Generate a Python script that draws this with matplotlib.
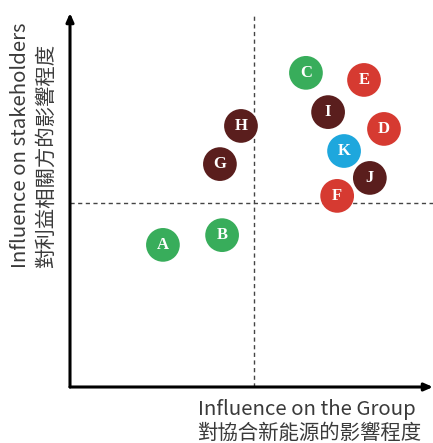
import matplotlib
matplotlib.use("Agg")
import matplotlib.pyplot as plt

# stakeholder positions (0-100 on both axes)
labels = ["A", "B", "C", "D", "E", "F", "G", "H", "I", "J", "K"]
x_vals = [25.6, 41.9, 65.0, 86.5, 81.0, 73.6, 41.3, 47.1, 71.1, 82.6, 75.5]
y_vals = [38.0, 40.6, 84.0, 69.0, 82.1, 51.1, 59.6, 69.8, 73.5, 55.9, 63.1]
groups = ["green", "green", "green", "red", "red", "red", "brown", "brown", "brown", "brown", "blue"]
x_mid = 50.7
y_mid = 49.2

colors = {"green": "#38ad5b", "red": "#d63a31", "brown": "#5a1e1d", "blue": "#1ea7dd"}

fig = plt.figure(figsize=(4.33, 4.43), dpi=100)
ax = fig.add_axes([70 / 433, 56 / 443, 363 / 433, 374 / 443])
ax.set_xlim(0, 100)
ax.set_ylim(0, 100)
ax.axis("off")

# quadrant lines
ax.axvline(x_mid, color="#444444", lw=1, ls=(0, (3, 2.5)), zorder=1)
ax.axhline(y_mid, color="#444444", lw=1, ls=(0, (3, 2.5)), zorder=1)

# axes arrows
arrow = dict(arrowstyle="-|>,head_length=0.5,head_width=0.22", color="black", lw=2.2,
             shrinkA=0, shrinkB=0)
ax.annotate("", xy=(100, 0), xytext=(0, 0), annotation_clip=False, arrowprops=arrow)
ax.annotate("", xy=(0, 100), xytext=(0, 0), annotation_clip=False, arrowprops=arrow)

ax.scatter(x_vals, y_vals, s=590, c=[colors[g] for g in groups], edgecolors="none", zorder=3, clip_on=False)
for lab, x, y in zip(labels, x_vals, y_vals):
    ax.text(x, y, lab, color="white", fontsize=12, fontweight="bold", family="Liberation Serif",
            ha="center", va="center", zorder=4)

fam = ["Noto Sans CJK TC", "DejaVu Sans"]
txt_color = "#3a3a3a"
fs = 14.7
fig.text(198 / 433, 1 - 415 / 443, "Influence on the Group", fontsize=fs, family=fam,
         color=txt_color, ha="left", va="baseline")
fig.text(197 / 433, 1 - 439 / 443, "對協合新能源的影響程度", fontsize=fs, family=fam,
         color=txt_color, ha="left", va="baseline")
fig.text(21 / 433, 1 - 268 / 443, "Influence on stakeholders", fontsize=fs, family=fam,
         color=txt_color, ha="left", va="center", rotation=90, rotation_mode="anchor")
fig.text(46 / 433, 1 - 268 / 443, "對利益相關方的影響程度", fontsize=fs, family=fam,
         color=txt_color, ha="left", va="center", rotation=90, rotation_mode="anchor")

fig.savefig("out.png", dpi=100)
